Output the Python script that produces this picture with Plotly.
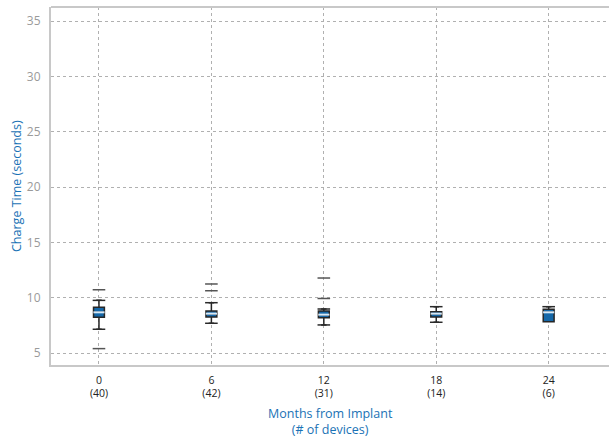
import plotly.graph_objects as go

months = [0, 6, 12, 18, 24]
n_devices = [40, 42, 31, 14, 6]
q1 = [8.25, 8.28, 8.22, 8.28, 7.85]
median = [8.70, 8.58, 8.49, 8.58, 8.70]
q3 = [9.15, 8.82, 8.82, 8.76, 8.97]
lower_whisker = [7.17, 7.71, 7.56, 7.80, 7.85]
upper_whisker = [9.78, 9.57, 9.00, 9.21, 9.21]
outliers = {0: [10.74, 5.42], 6: [11.26, 10.65], 12: [11.80, 9.95], 18: [], 24: []}

tick_text = [f"{m}<br>({n})" for m, n in zip(months, n_devices)]

BOX_FILL = "#1467a8"
BOX_LINE = "#262626"
BLUE_TXT = "#1a72b5"
FONT = "Open Sans, Noto Sans, sans-serif"

fig = go.Figure()
fig.add_trace(go.Box(
    x=months, q1=q1, median=median, q3=q3,
    lowerfence=lower_whisker, upperfence=upper_whisker,
    width=0.58, fillcolor=BOX_FILL,
    line=dict(color=BOX_LINE, width=1.5),
    boxpoints=False, showlegend=False, hoverinfo="skip",
))

# light median stripe
fig.add_trace(go.Scatter(
    x=months, y=median, mode="markers",
    marker=dict(symbol="line-ew", size=8, line=dict(color="#d6e8f6", width=2)),
    showlegend=False, hoverinfo="skip",
))

# whisker caps
cap_x, cap_y = [], []
for m, lw, uw, a, b in zip(months, lower_whisker, upper_whisker, q1, q3):
    if lw < a:
        cap_x.append(m); cap_y.append(lw)
    if uw > b:
        cap_x.append(m); cap_y.append(uw)
fig.add_trace(go.Scatter(
    x=cap_x, y=cap_y, mode="markers",
    marker=dict(symbol="line-ew", size=9, line=dict(color="#2a2a2a", width=1.5)),
    showlegend=False, hoverinfo="skip",
))

# outliers
ox, oy = [], []
for m in months:
    for v in outliers[m]:
        ox.append(m); oy.append(v)
fig.add_trace(go.Scatter(
    x=ox, y=oy, mode="markers",
    marker=dict(symbol="line-ew", size=9, line=dict(color="#555555", width=1.5)),
    showlegend=False, hoverinfo="skip",
))

fig.update_layout(
    width=609, height=440,
    margin=dict(l=51, r=0, t=7, b=75, autoexpand=False),
    paper_bgcolor="white", plot_bgcolor="white",
    font=dict(family=FONT),
    xaxis=dict(
        range=[-2.56, 27.22], tickmode="array", tickvals=months, ticktext=tick_text,
        tickfont=dict(size=10.5, color="#222222"),
        showgrid=True, gridcolor="#b0b0b0", griddash="3px,3px", gridwidth=1,
        zeroline=False, showline=True, linecolor="#c8c8c8", linewidth=2,
        ticks="", ticklabelstandoff=4, automargin=False,
    ),
    yaxis=dict(
        range=[3.94, 36.29], tickvals=[5, 10, 15, 20, 25, 30, 35],
        tickfont=dict(size=12, color="#9a9a9a"),
        showgrid=True, gridcolor="#b0b0b0", griddash="3px,3px", gridwidth=1,
        zeroline=False, showline=True, linecolor="#c8c8c8", linewidth=2,
        ticks="", ticklabelstandoff=6, automargin=False,
    ),
    shapes=[
        dict(type="line", xref="paper", yref="paper", x0=0, x1=1, y0=1, y1=1,
             line=dict(color="#c8c8c8", width=2)),
    ],
    annotations=[
        dict(text="Months from Implant<br>(# of devices)", xref="paper", yref="paper",
             x=0.5, y=0, yshift=-38, xanchor="center", yanchor="top", showarrow=False,
             font=dict(size=12.5, color=BLUE_TXT, family=FONT)),
        dict(text="Charge Time (seconds)", xref="paper", yref="paper",
             x=0, y=0.5, xshift=-35, xanchor="center", yanchor="middle", textangle=-90,
             showarrow=False, font=dict(size=12.5, color=BLUE_TXT, family=FONT)),
    ],
)

fig.write_html("out.html", config={"displayModeBar": False},
               post_script="document.body.style.margin='0';document.body.style.overflow='hidden';")
